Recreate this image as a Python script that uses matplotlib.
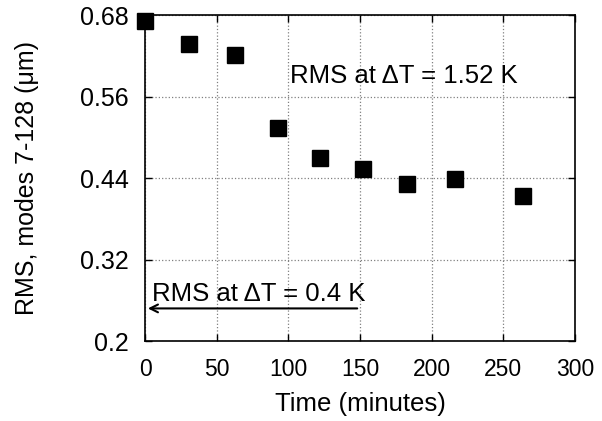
import matplotlib
matplotlib.use('Agg')
import matplotlib.pyplot as plt

plt.rcParams['font.family'] = ['Liberation Sans', 'DejaVu Sans']
plt.rcParams['font.size'] = 18

# measured RMS vs time
time_min = [0, 31, 63, 93, 122, 152, 183, 216, 264]
rms = [0.671, 0.638, 0.622, 0.514, 0.469, 0.453, 0.432, 0.438, 0.414]

xticks = [0, 50, 100, 150, 200, 250, 300]
yticks = [0.2, 0.32, 0.44, 0.56, 0.68]
ytick_labels = ['0.2', '0.32', '0.44', '0.56', '0.68']

fig = plt.figure(figsize=(6.02, 4.21), dpi=100)
ax = fig.add_axes([0.241, 0.19, 0.714, 0.774])

ax.plot(time_min, rms, 's', color='black', markersize=12, clip_on=False, zorder=5)

ax.set_xlim(0, 300)
ax.set_ylim(0.2, 0.68)
ax.set_xticks(xticks)
ax.set_yticks(yticks)
ax.set_yticklabels(ytick_labels)
ax.tick_params(direction='in', top=True, right=True, length=5, width=1)
ax.tick_params(axis='x', labelsize=16.5, pad=12)
ax.tick_params(axis='y', labelsize=18, pad=12)
ax.grid(True, linestyle=':', color='gray', linewidth=0.9)
for s in ax.spines.values():
    s.set_linewidth(1.2)

ax.set_xlabel('Time (minutes)', fontsize=18.5, labelpad=8)
ax.set_ylabel('RMS, modes 7-128 (\u03bcm)', fontsize=18, labelpad=29)

ax.text(101, 0.591, 'RMS at \u0394T = 1.52 K', va='center', ha='left', fontsize=18.5)
ax.annotate('', xy=(0, 0.248), xytext=(150, 0.248),
            arrowprops=dict(arrowstyle='->', color='black', lw=1.5, mutation_scale=14))
ax.text(5, 0.251, 'RMS at \u0394T = 0.4 K', va='bottom', ha='left', fontsize=18.5)

plt.savefig('out.png', dpi=100)
